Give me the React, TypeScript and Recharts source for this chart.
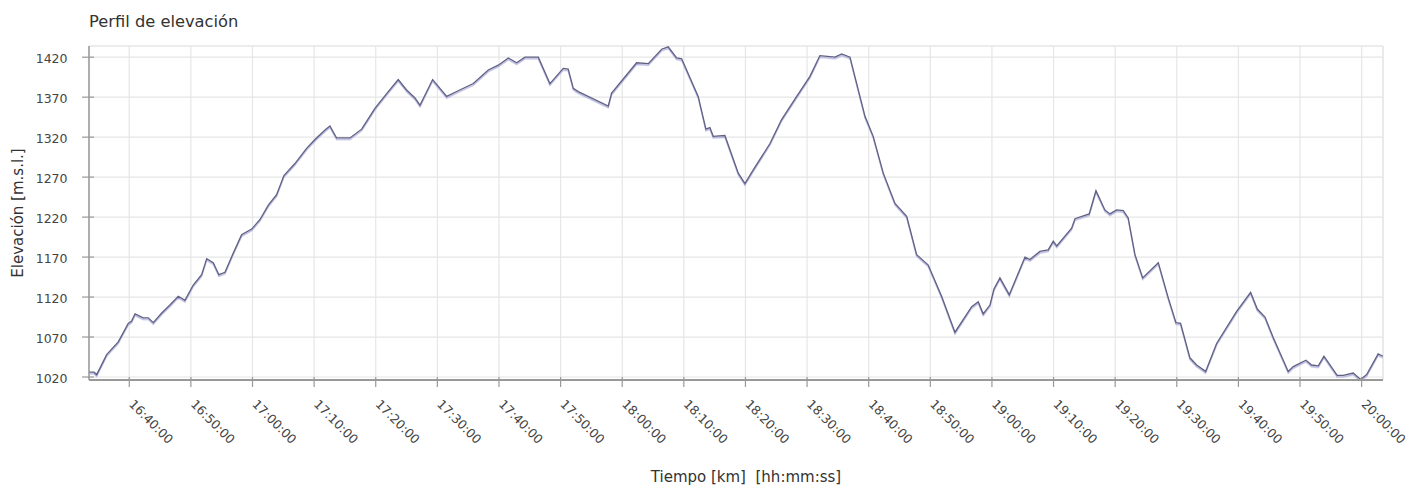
import React from 'react';
import { LineChart, Line, XAxis, YAxis, CartesianGrid, ReferenceLine } from 'recharts';

const times = [
  '16:33:28', '16:34:16', '16:34:43', '16:36:20', '16:38:13', '16:39:50', '16:40:23', '16:40:56',
  '16:42:16', '16:43:05', '16:43:54', '16:45:16', '16:46:36', '16:47:57', '16:49:02', '16:50:23',
  '16:51:45', '16:52:34', '16:53:38', '16:54:33', '16:55:32', '16:56:53', '16:58:14', '16:59:52',
  '17:01:13', '17:02:34', '17:03:55', '17:05:06', '17:06:53', '17:08:47', '17:10:08', '17:11:46',
  '17:12:34', '17:13:39', '17:15:49', '17:17:43', '17:19:52', '17:22:02', '17:23:39', '17:25:01',
  '17:26:22', '17:27:11', '17:29:14', '17:31:31', '17:33:23', '17:35:50', '17:38:16', '17:39:53',
  '17:41:31', '17:42:52', '17:44:13', '17:46:23', '17:48:16', '17:50:26', '17:51:14', '17:52:04',
  '17:52:52', '17:57:44', '17:58:17', '18:02:20', '18:04:14', '18:06:24', '18:07:28', '18:08:50',
  '18:09:39', '18:12:20', '18:13:35', '18:14:14', '18:14:46', '18:16:40', '18:18:50', '18:19:55',
  '18:21:16', '18:23:59', '18:25:52', '18:28:19', '18:30:28', '18:32:05', '18:34:32', '18:35:37',
  '18:36:58', '18:39:24', '18:40:44', '18:42:22', '18:44:16', '18:46:10', '18:47:47', '18:49:40',
  '18:51:50', '18:54:00', '18:56:43', '18:57:47', '18:58:35', '18:59:41', '19:00:20', '19:01:18',
  '19:02:49', '19:05:22', '19:06:10', '19:07:47', '19:09:08', '19:09:57', '19:10:31', '19:12:56',
  '19:13:29', '19:15:47', '19:16:53', '19:18:20', '19:19:09', '19:20:14', '19:21:19', '19:22:07',
  '19:23:13', '19:24:28', '19:27:00', '19:28:37', '19:29:52', '19:30:37', '19:32:08', '19:33:13',
  '19:34:41', '19:36:28', '19:39:43', '19:41:59', '19:43:04', '19:44:19', '19:45:40', '19:48:05',
  '19:48:54', '19:50:58', '19:51:53', '19:52:58', '19:53:53', '19:56:02', '19:57:01', '19:58:38',
  '19:59:50', '20:00:49', '20:02:41', '20:03:27',
];

const elevations = [
  1026, 1026, 1023, 1048, 1064, 1087, 1090, 1099,
  1094, 1094, 1088, 1100, 1110, 1121, 1116, 1135,
  1148, 1168, 1163, 1148, 1151, 1175, 1198, 1205,
  1217, 1235, 1248, 1272, 1287, 1306, 1317, 1329,
  1334, 1319, 1319, 1330, 1356, 1377, 1392, 1379,
  1369, 1360, 1392, 1371, 1378, 1387, 1404, 1410,
  1419, 1413, 1420, 1420, 1387, 1406, 1405, 1381,
  1377, 1359, 1375, 1413, 1412, 1430, 1433, 1419,
  1418, 1371, 1330, 1332, 1321, 1322, 1275, 1262,
  1279, 1312, 1342, 1371, 1396, 1422, 1420, 1424,
  1420, 1346, 1321, 1275, 1237, 1221, 1173, 1160,
  1121, 1076, 1108, 1114, 1099, 1110, 1130, 1144,
  1123, 1170, 1167, 1177, 1179, 1190, 1184, 1206,
  1218, 1224, 1253, 1229, 1224, 1229, 1228, 1219,
  1173, 1144, 1163, 1119, 1088, 1087, 1044, 1035,
  1027, 1062, 1102, 1126, 1105, 1095, 1069, 1027,
  1033, 1041, 1035, 1034, 1046, 1022, 1022, 1025,
  1017, 1023, 1049, 1046,
];

const timeTicks = [
  '16:40:00', '16:50:00', '17:00:00', '17:10:00', '17:20:00', '17:30:00', '17:40:00',
  '17:50:00', '18:00:00', '18:10:00', '18:20:00', '18:30:00', '18:40:00', '18:50:00',
  '19:00:00', '19:10:00', '19:20:00', '19:30:00', '19:40:00', '19:50:00', '20:00:00',
];

const elevationTicks = [1020, 1070, 1120, 1170, 1220, 1270, 1320, 1370, 1420];

const timeRange = ['16:33:28', '20:03:28'];
const elevationRange = [1016.25, 1434];

const toSeconds = (t: string) => {
  const [h, m, s] = t.split(':').map(Number);
  return h * 3600 + m * 60 + s;
};

const pad = (n: number) => String(n).padStart(2, '0');
const toClock = (v: number) =>
  `${pad(Math.floor(v / 3600))}:${pad(Math.floor((v % 3600) / 60))}:${pad(v % 60)}`;

const data = times.map((t, i) => ({ t: toSeconds(t), elevation: elevations[i] }));

const FONT = '"DejaVu Sans", sans-serif';
const AXIS = '#999999';
const GRID = '#e6e6e6';

const YTick = (props: any) => {
  const { x, y, payload } = props;
  return (
    <g>
      <line x1={x - 7} x2={x + 5} y1={y} y2={y} stroke={AXIS} strokeWidth={1.2} />
      <text x={x - 21.5} y={y + 6} textAnchor="end" fontSize={12.5} fill="#444" fontFamily={FONT}>
        {payload.value}
      </text>
    </g>
  );
};

const XTick = (props: any) => {
  const { x, y, payload } = props;
  return (
    <g>
      <line x1={x} x2={x} y1={y - 3} y2={y + 7} stroke={AXIS} strokeWidth={1.2} />
      <text
        transform={`translate(${x - 1},${y + 25}) rotate(45)`}
        textAnchor="start"
        fontSize={12.5}
        fill="#444"
        fontFamily={FONT}
      >
        {toClock(payload.value)}
      </text>
    </g>
  );
};

export default function App() {
  return (
    <div style={{ position: 'absolute', left: 0, top: 0, width: 1412, height: 490, background: '#fff', fontFamily: FONT }}>
      <div style={{ position: 'absolute', left: 89, top: 14, fontSize: 16.3, lineHeight: '16px', color: '#333' }}>
        Perfil de elevación
      </div>
      <div
        style={{
          position: 'absolute',
          left: 17.5,
          top: 213,
          fontSize: 15,
          lineHeight: '15px',
          color: '#333',
          whiteSpace: 'nowrap',
          transform: 'translate(-50%, -50%) rotate(-90deg)',
        }}
      >
        Elevación [m.s.l.]
      </div>
      <div
        style={{
          position: 'absolute',
          left: 746,
          top: 470,
          fontSize: 15,
          lineHeight: '15px',
          color: '#333',
          whiteSpace: 'pre',
          transform: 'translateX(-50%)',
        }}
      >
        {'Tiempo [km]  [hh:mm:ss]'}
      </div>
      <LineChart width={1412} height={490} data={data} margin={{ top: 46, right: 29, bottom: 40, left: 29 }}>
        <defs>
          <filter id="lineShadow" x="-2%" y="-5%" width="104%" height="115%">
            <feDropShadow dx="0" dy="1.5" stdDeviation="0.5" floodColor="#a4a4da" floodOpacity="1" />
          </filter>
        </defs>
        <CartesianGrid stroke={GRID} strokeWidth={1.2} />
        <ReferenceLine y={elevationRange[1]} stroke={GRID} strokeWidth={1.2} />
        <ReferenceLine x={toSeconds(timeRange[1])} stroke={GRID} strokeWidth={1.2} />
        <XAxis
          dataKey="t"
          type="number"
          domain={timeRange.map(toSeconds)}
          ticks={timeTicks.map(toSeconds)}
          allowDataOverflow
          height={70}
          tickSize={0}
          tickMargin={0}
          tickLine={false}
          axisLine={{ stroke: AXIS, strokeWidth: 2 }}
          tick={<XTick />}
          interval={0}
        />
        <YAxis
          type="number"
          domain={elevationRange}
          ticks={elevationTicks}
          allowDataOverflow
          width={60}
          tickSize={0}
          tickMargin={0}
          tickLine={false}
          axisLine={{ stroke: AXIS, strokeWidth: 1.5 }}
          tick={<YTick />}
          interval={0}
        />
        <Line
          type="linear"
          dataKey="elevation"
          stroke="#60607f"
          strokeWidth={1.3}
          dot={false}
          activeDot={false}
          filter="url(#lineShadow)"
          isAnimationActive={false}
        />
      </LineChart>
    </div>
  );
}
